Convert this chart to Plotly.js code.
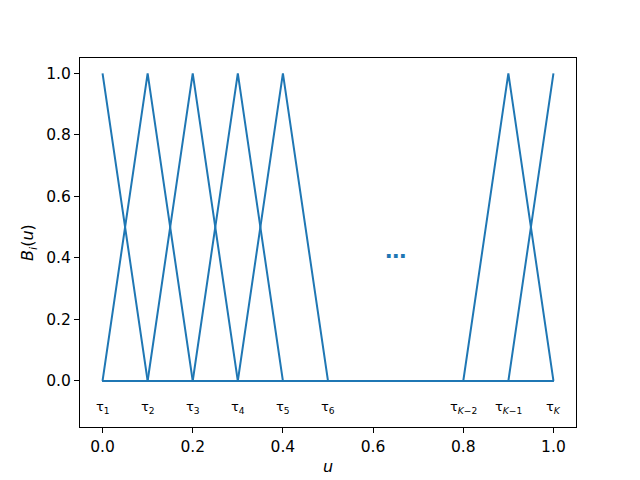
<!DOCTYPE html>
<html>
<head>
<meta charset="utf-8">
<script src="https://cdn.plot.ly/plotly-3.0.1.min.js"></script>
<style>html,body{margin:0;padding:0;background:#fff;}#chart{width:640px;height:480px;}</style>
</head>
<body>
<div id="chart"></div>
<script>
// Knot positions (u values) shown in the figure
const knots = [0.0, 0.1, 0.2, 0.3, 0.4, 0.5, 0.8, 0.9, 1.0];
// Values of each plotted basis function at the knots
const B1 = [1, 0, 0, 0, 0, 0, 0, 0, 0];
const B2 = [0, 1, 0, 0, 0, 0, 0, 0, 0];
const B3 = [0, 0, 1, 0, 0, 0, 0, 0, 0];
const B4 = [0, 0, 0, 1, 0, 0, 0, 0, 0];
const B5 = [0, 0, 0, 0, 1, 0, 0, 0, 0];
const BKm1 = [0, 0, 0, 0, 0, 0, 0, 1, 0];
const BK = [0, 0, 0, 0, 0, 0, 0, 0, 1];
const basisSeries = [B1, B2, B3, B4, B5, BKm1, BK];
// Knot labels
const tauLabels = ['τ<sub>1</sub>', 'τ<sub>2</sub>', 'τ<sub>3</sub>', 'τ<sub>4</sub>', 'τ<sub>5</sub>', 'τ<sub>6</sub>', 'τ<sub><i>K</i>−2</sub>', 'τ<sub><i>K</i>−1</sub>', 'τ<sub><i>K</i></sub>'];
const tauLabelY = -0.085;
const ellipsisPos = [0.65, 0.405];

const color = '#1f77b4';
const traces = basisSeries.map(ys => ({
  x: knots, y: ys, type: 'scatter', mode: 'lines',
  line: {color: color, width: 2}, hoverinfo: 'skip', showlegend: false
}));

const annotations = tauLabels.map((t, i) => ({
  x: knots[i], y: tauLabelY, xref: 'x', yref: 'y', text: t, showarrow: false,
  font: {family: 'DejaVu Sans', size: 13, color: '#000'}, xanchor: 'center', yanchor: 'middle'
}));
annotations.push({
  x: ellipsisPos[0], y: ellipsisPos[1], xref: 'x', yref: 'y', text: '<b>⋯</b>', showarrow: false,
  font: {family: 'DejaVu Sans', size: 21, color: color}, xanchor: 'center', yanchor: 'middle'
});

const axisCommon = {
  showgrid: false, zeroline: false, showline: true, mirror: true, linecolor: '#000', linewidth: 1,
  ticks: 'outside', ticklen: 5, tickwidth: 1, tickcolor: '#000',
  tickfont: {family: 'DejaVu Sans', size: 15.5, color: '#000'}
};

const layout = {
  width: 640, height: 480,
  margin: {l: 80, r: 64, t: 58, b: 53},
  paper_bgcolor: '#fff', plot_bgcolor: '#fff',
  xaxis: Object.assign({}, axisCommon, {
    range: [-0.05, 1.05], tickvals: [0, 0.2, 0.4, 0.6, 0.8, 1.0],
    ticktext: ['0.0', '0.2', '0.4', '0.6', '0.8', '1.0'],
    title: {text: '<i>u</i>', font: {family: 'DejaVu Sans', size: 16, color: '#000'}, standoff: 6}
  }),
  yaxis: Object.assign({}, axisCommon, {
    range: [-0.15, 1.05], tickvals: [0, 0.2, 0.4, 0.6, 0.8, 1.0],
    ticktext: ['0.0', '0.2', '0.4', '0.6', '0.8', '1.0'],
    title: {text: '<i>B</i><sub><i>i</i></sub>(<i>u</i>)', font: {family: 'DejaVu Sans', size: 16, color: '#000'}, standoff: 8}
  }),
  annotations: annotations
};

Plotly.newPlot('chart', traces, layout, {displayModeBar: false, staticPlot: true});
</script>
</body>
</html>
